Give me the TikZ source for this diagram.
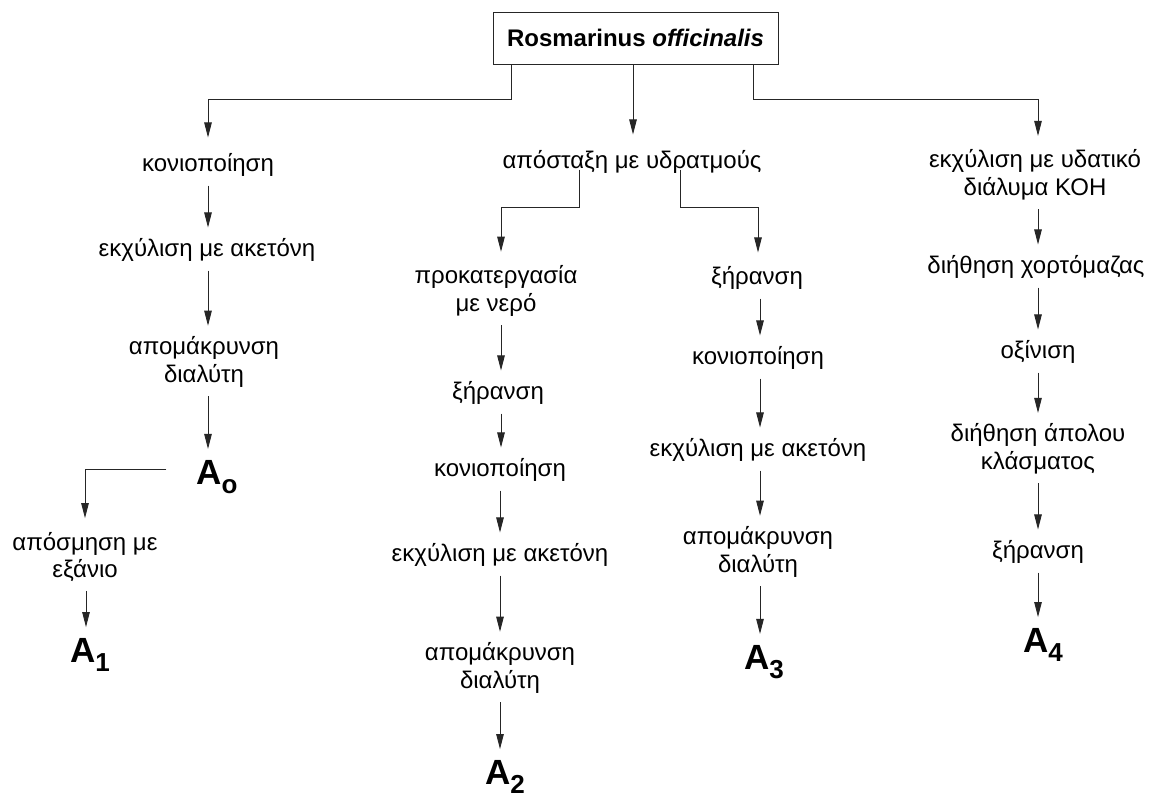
\documentclass[tikz,border=0pt]{standalone}
\usepackage{fontspec}
\setmainfont{Liberation Sans}
\usetikzlibrary{arrows.meta}
\begin{document}
\begin{tikzpicture}[x=1pt,y=-1pt,
  txt/.style={align=center, inner sep=0pt, outer sep=0pt, font=\fontsize{24}{27.5}\selectfont},
  prod/.style={inner sep=0pt, outer sep=0pt, font=\fontsize{35}{35}\selectfont\bfseries},
  ln/.style={line width=0.9pt, draw=black!85},
  tip/.style={ln, -{Triangle[length=15pt,width=7.5pt]}},
  arr/.style={tip, shorten <=9pt, shorten >=11pt},
  rootbox/.style={draw=black!85, line width=0.9pt, minimum width=285pt, minimum height=52pt, inner sep=0pt,
    font=\fontsize{24}{27}\selectfont\bfseries}]
\newcommand{\Asub}[1]{A\raisebox{-0.28em}{\fontsize{26}{26}\selectfont #1}}
\useasboundingbox (0,0) rectangle (1153,796);
\fill[white] (0,0) rectangle (1153,796);

% root
\node[rootbox] (root) at (635.5,38) {Rosmarinus \textit{officinalis}};

% left column
\node[txt] (k1) at (208,165) {κονιοποίηση};
\node[txt] (e1) at (207,250) {εκχύλιση με ακετόνη};
\node[txt] (am1) at (204,362) {απομάκρυνση\\διαλύτη};
\node[prod] (A0) at (217,477) {\Asub{o}};
\node[txt] (ap) at (85,557) {απόσμηση με\\εξάνιο};
\node[prod] (A1) at (90,655) {\Asub{1}};

% middle column
\node[txt] (ad) at (632,162) {απόσταξη με υδρατμούς};
\node[txt] (pr) at (496,291) {προκατεργασία\\με νερό};
\node[txt] (x2) at (498,393) {ξήρανση};
\node[txt] (k2) at (500,470) {κονιοποίηση};
\node[txt] (e2) at (500,555) {εκχύλιση με ακετόνη};
\node[txt] (am2) at (500,668) {απομάκρυνση\\διαλύτη};
\node[prod] (A2) at (505,777) {\Asub{2}};

% right-middle column
\node[txt] (x3) at (757,278) {ξήρανση};
\node[txt] (k3) at (758,358) {κονιοποίηση};
\node[txt] (e3) at (758,450) {εκχύλιση με ακετόνη};
\node[txt] (am3) at (758,552) {απομάκρυνση\\διαλύτη};
\node[prod] (A3) at (764,662) {\Asub{3}};

% right column
\node[txt] (eu) at (1035,175) {εκχύλιση με υδατικό\\διάλυμα ΚΟΗ};
\node[txt] (dx) at (1036,267) {διήθηση χορτόμαζας};
\node[txt] (ox) at (1038,352) {οξίνιση};
\node[txt] (da) at (1038,449) {διήθηση άπολου\\κλάσματος};
\node[txt] (x4) at (1038,552) {ξήρανση};
\node[prod] (A4) at (1043,645) {\Asub{4}};

% branch points
\coordinate (bl) at (208,99);
\coordinate (br) at (1038,99);
\coordinate (ml) at (501,207);
\coordinate (mr) at (758,207);
\coordinate (ol) at (85,469);

% root connectors
\draw[tip, shorten >=16pt] ([xshift=19pt]root.south west) |- (bl) -- (bl |- k1.north);
\draw[tip, shorten >=16pt] ([xshift=-2.5pt]root.south) -- ([xshift=-2.5pt]root.south |- ad.north);
\draw[tip, shorten >=14pt] ([xshift=-25pt]root.south east) |- (br) -- (br |- eu.north);

% middle split
\draw[tip, shorten >=14pt] ([xshift=-53pt,yshift=4pt]ad.south) |- (ml) -- (ml |- pr.north);
\draw[tip, shorten >=14pt] ([xshift=48pt,yshift=4pt]ad.south) |- (mr) -- (mr |- x3.north);

% left column arrows
\draw[arr] (k1.south) -- (k1.south |- e1.north);
\draw[arr] ([xshift=1pt]e1.south) -- ([xshift=1pt]e1.south |- am1.north);
\draw[arr] ([xshift=4pt]am1.south) -- ([xshift=4pt]am1.south |- A0.north);
\draw[tip, shorten >=14pt] ([xshift=-30pt]A0.west |- ol) -- (ol) -- (ol |- ap.north);
\draw[arr] ([xshift=1pt]ap.south) -- ([xshift=1pt]ap.south |- A1.north);

% middle column arrows
\draw[arr] ([xshift=5pt]pr.south) -- ([xshift=5pt]pr.south |- x2.north);
\draw[arr] ([xshift=3pt]x2.south) -- ([xshift=3pt]x2.south |- k2.north);
\draw[arr] (k2.south) -- (k2.south |- e2.north);
\draw[arr] (e2.south) -- (e2.south |- am2.north);
\draw[arr] (am2.south) -- (am2.south |- A2.north);

% right-middle column arrows
\draw[arr] ([xshift=3pt]x3.south) -- ([xshift=3pt]x3.south |- k3.north);
\draw[arr] ([xshift=2pt]k3.south) -- ([xshift=2pt]k3.south |- e3.north);
\draw[arr] ([xshift=2pt]e3.south) -- ([xshift=2pt]e3.south |- am3.north);
\draw[arr] ([xshift=2pt]am3.south) -- ([xshift=2pt]am3.south |- A3.north);

% right column arrows
\draw[arr] ([xshift=3pt]eu.south) -- ([xshift=3pt]eu.south |- dx.north);
\draw[arr] ([xshift=2pt]dx.south) -- ([xshift=2pt]dx.south |- ox.north);
\draw[arr] (ox.south) -- (ox.south |- da.north);
\draw[arr] (da.south) -- (da.south |- x4.north);
\draw[arr] (x4.south) -- (x4.south |- A4.north);
\end{tikzpicture}
\end{document}
